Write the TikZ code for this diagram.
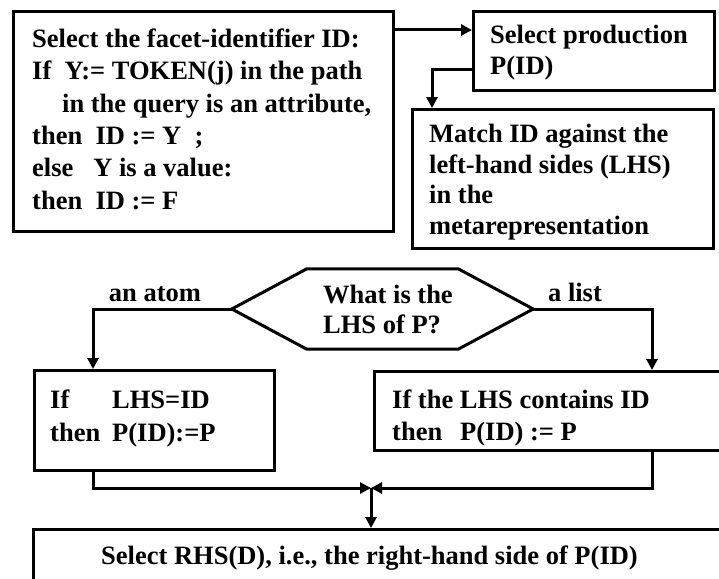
\documentclass[tikz,border=0pt]{standalone}
\usepackage{fontspec}
\setmainfont{Liberation Serif}
\usetikzlibrary{arrows.meta,calc}

\begin{document}
\begin{tikzpicture}[x=1pt,y=-1pt,
  frame/.style={draw, line width=3pt, inner sep=0pt, anchor=north west},
  txt/.style={font=\fontsize{26.5pt}{#1}\selectfont\bfseries, align=left,
              inner sep=0pt, anchor=north west},
  txt/.default=32pt,
  lbl/.style={font=\fontsize{26.5pt}{32pt}\selectfont\bfseries, inner sep=0pt, anchor=base},
  link/.style={line width=3pt},
  arr/.style={line width=3pt, -{Triangle[length=11pt,width=11pt]}}]

% canvas
\useasboundingbox (0,0) rectangle (719,578);
\clip (0,0) rectangle (719,578);
\fill[white] (0,0) rectangle (719,578);

% boxes
\node[frame, minimum width=380pt, minimum height=220pt] (box1) at (12,10) {};
\node[frame, minimum width=241pt, minimum height=79pt]  (box2) at (472,10) {};
\node[frame, minimum width=301pt, minimum height=139pt] (box3) at (411,108) {};
\node[frame, minimum width=240pt, minimum height=100pt] (box4) at (33,369) {};
\node[frame, minimum width=420pt, minimum height=79pt]  (box5) at (373,370) {};
\node[frame, minimum width=760pt, minimum height=90pt]  (box6) at (32,528) {};

% box texts (first baseline = top + 19pt)
\node[txt=32.4pt] (t1) at (32,28) {\rule{0pt}{19pt}Select the facet-identifier ID:\\
  If\ \ Y:= TOKEN(j) in the path\\
  \hspace*{30pt}in the query is an attribute,\\
  then\ \ ID := Y\ \ ;\\
  else\ \ \ Y is a value:\\
  then\ \ ID := F};
\node[txt=31pt] (t2) at (490,24) {\rule{0pt}{19pt}Select production\\P(ID)};
\node[txt=30.8pt] (t3) at (429,123) {\rule{0pt}{19pt}Match ID against the\\
  left-hand sides (LHS)\\in the\\metarepresentation};
\node[txt=33pt] (t4) at (50,389) {\rule{0pt}{19pt}\makebox[62pt][l]{If}LHS=ID\\
  \makebox[62pt][l]{then}P(ID):=P};
\node[txt=32pt] (t5) at (392,389) {\rule{0pt}{19pt}If the LHS contains ID\\
  \makebox[68pt][l]{then}P(ID) := P};
\node[txt] (t6) at (101,545) {\rule{0pt}{19pt}Select RHS(D), i.e., the right-hand side of P(ID)};

% decision hexagon
\node[minimum width=301pt, minimum height=80pt, inner sep=0pt] (q) at (382.5,309) {};
\draw[link, line join=miter]
  (q.west) -- ([xshift=75pt]q.north west) -- ([xshift=-75pt]q.north east)
  -- (q.east) -- ([xshift=-75pt]q.south east) -- ([xshift=75pt]q.south west) -- cycle;
\node[txt=30pt] (qt) at (323,284) {\rule{0pt}{19pt}What is the\\LHS of P?};

% branch labels
\node[lbl] (atom) at (155,301) {an atom};
\node[lbl] (list) at (575,301) {a list};

% helper points
\coordinate (y30) at (0,30);
\coordinate (y69) at (0,69);
\coordinate (x432) at (432,0);
\coordinate (x93) at (93,0);
\coordinate (x652) at (652,0);
\coordinate (join) at (371,488);

% connectors
\draw[arr] (box1.east |- y30) -- (box2.west |- y30);
\draw[arr] (box2.west |- y69) -| (box3.north -| x432);
\draw[arr] (q.west) -| (box4.north -| x93);
\draw[arr] (q.east) -| (box5.north -| x652);
\draw[arr] (box4.south -| x93) |- (join);
\draw[arr] (box5.south -| x652) |- (join);
\draw[arr] (join) -- (box6.north -| join);
\end{tikzpicture}
\end{document}
